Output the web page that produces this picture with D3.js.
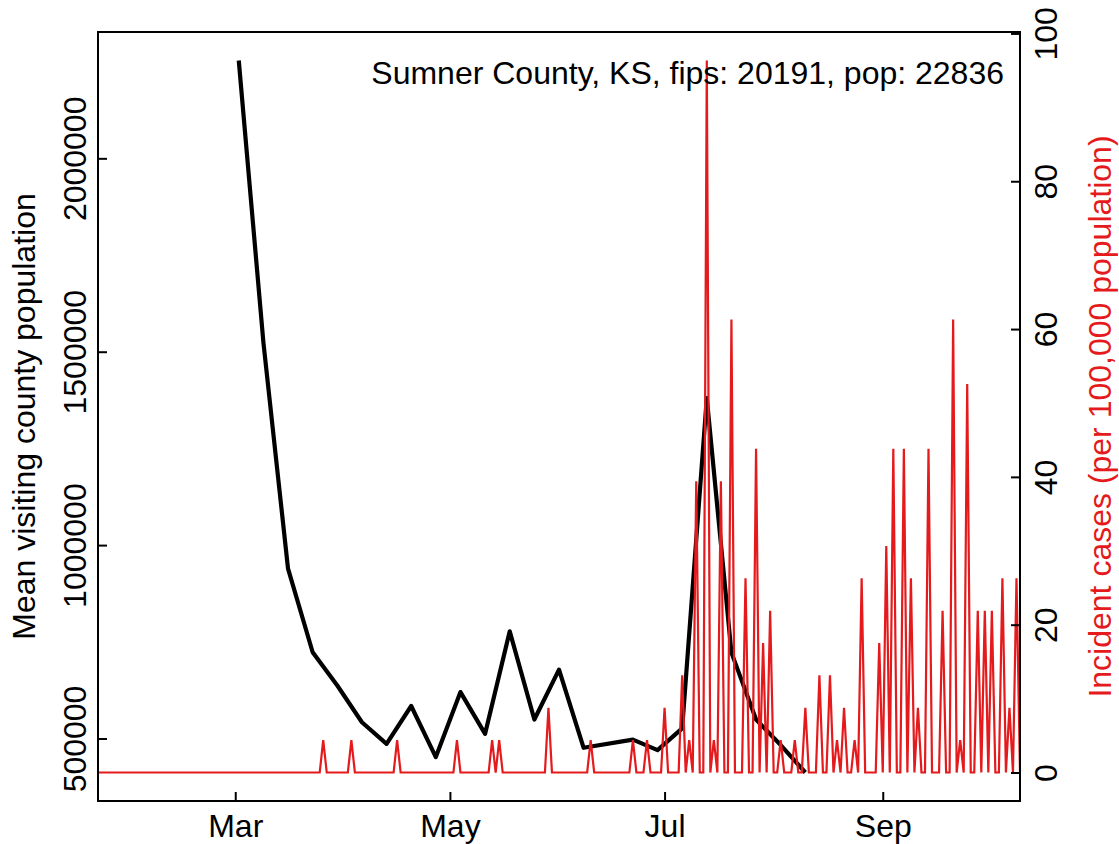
<!DOCTYPE html>
<html>
<head>
<meta charset="utf-8">
<script src="https://cdn.jsdelivr.net/npm/d3@7"></script>
<style>
  body { margin: 0; background: #fff; }
  svg { display: block; font-family: "Liberation Sans", Arial, sans-serif; }
</style>
</head>
<body>
<svg id="chart"></svg>
<script>
// weekly mean visiting county population (black line)
const visitDates = ["2020-03-02", "2020-03-09", "2020-03-16", "2020-03-23", "2020-03-30",
    "2020-04-06", "2020-04-13", "2020-04-20", "2020-04-27", "2020-05-04", "2020-05-11",
    "2020-05-18", "2020-05-25", "2020-06-01", "2020-06-08", "2020-06-22", "2020-06-29",
    "2020-07-06", "2020-07-13", "2020-07-20", "2020-07-27", "2020-08-03", "2020-08-10"];
const visitValues = [2253000, 1524000, 939000, 723000, 637000,
    542000, 486000, 584000, 452000, 620000, 512000,
    777000, 549000, 678000, 476000, 497000, 470000,
    526000, 1380000, 722000, 549000, 483000, 412000];

// daily incident cases per 100,000 (red line); days not listed are 0
const caseStart = "2020-01-22";
const caseEnd = "2020-10-10";
const caseDates = ["2020-03-26", "2020-04-03", "2020-04-16", "2020-05-03", "2020-05-13",
    "2020-05-15", "2020-05-29", "2020-06-10", "2020-06-22", "2020-06-26", "2020-07-01",
    "2020-07-06", "2020-07-08", "2020-07-10", "2020-07-13", "2020-07-15", "2020-07-17",
    "2020-07-20", "2020-07-24", "2020-07-27", "2020-07-29", "2020-07-31", "2020-08-03",
    "2020-08-07", "2020-08-10", "2020-08-14", "2020-08-17", "2020-08-19", "2020-08-21",
    "2020-08-24", "2020-08-26", "2020-08-31", "2020-09-02", "2020-09-04", "2020-09-07",
    "2020-09-09", "2020-09-11", "2020-09-14", "2020-09-18", "2020-09-21", "2020-09-23",
    "2020-09-25", "2020-09-28", "2020-09-30", "2020-10-02", "2020-10-05", "2020-10-07",
    "2020-10-09"];
const caseValues = [4.38, 4.38, 4.38, 4.38, 4.38,
    4.38, 8.76, 4.38, 4.38, 4.38, 8.76,
    13.14, 4.38, 39.41, 96.34, 4.38, 39.41,
    61.31, 26.27, 43.79, 17.52, 21.90, 4.38,
    4.38, 8.76, 13.14, 13.14, 4.38, 8.76,
    4.38, 26.27, 17.52, 30.65, 43.79, 43.79,
    26.27, 8.76, 43.79, 21.90, 61.31, 4.38,
    52.55, 21.90, 21.90, 21.90, 26.27, 8.76,
    26.27];

const monthTicks = ["2020-03-01", "2020-05-01", "2020-07-01", "2020-09-01"];
const leftTicks = [500000, 1000000, 1500000, 2000000];
const rightTicks = [0, 20, 40, 60, 80, 100];
const title = "Sumner County, KS, fips: 20191, pop: 22836";

class DualChart {
    margin = {
        top: 32, right: 99, bottom: 43, left: 98
    }

    constructor(svg, width = 1119, height = 844) {
        this.svg = svg;
        this.width = width;
        this.height = height;
    }

    initialize() {
        const parse = d3.utcParse("%Y-%m-%d");
        this.visits = visitDates.map((d, i) => ({ date: parse(d), value: visitValues[i] }));

        const caseMap = new Map(caseDates.map((d, i) => [d, caseValues[i]]));
        const fmt = d3.utcFormat("%Y-%m-%d");
        this.cases = d3.utcDay.range(parse(caseStart), d3.utcDay.offset(parse(caseEnd), 1))
            .map(d => ({ date: d, value: caseMap.get(fmt(d)) || 0 }));
        this.ticksX = monthTicks.map(parse);

        this.innerW = this.width - this.margin.left - this.margin.right;
        this.innerH = this.height - this.margin.top - this.margin.bottom;

        this.svg = d3.select(this.svg)
            .attr("width", this.width)
            .attr("height", this.height);
        this.container = this.svg.append("g")
            .attr("transform", `translate(${this.margin.left}, ${this.margin.top})`);

        this.xScale = d3.scaleUtc()
            .domain([parse(caseStart), parse(caseEnd)])
            .range([0, this.innerW]);

        // R style 4% padding on the y ranges
        const pad = ([a, b]) => [a - 0.04 * (b - a), b + 0.04 * (b - a)];
        this.yLeft = d3.scaleLinear()
            .domain(pad(d3.extent(this.visits, d => d.value)))
            .range([this.innerH, 0]);
        this.yRight = d3.scaleLinear()
            .domain(pad([0, d3.max(this.cases, d => d.value)]))
            .range([this.innerH, 0]);
    }

    update() {
        const c = this.container;
        const tickLen = 9;
        const font = "32px";

        c.append("path")
            .datum(this.visits)
            .attr("d", d3.line().x(d => this.xScale(d.date)).y(d => this.yLeft(d.value)))
            .style("fill", "none")
            .style("stroke", "#000")
            .style("stroke-width", 4.2)
            .style("stroke-linejoin", "round");

        c.append("path")
            .datum(this.cases)
            .attr("d", d3.line().x(d => this.xScale(d.date)).y(d => this.yRight(d.value)))
            .style("fill", "none")
            .style("stroke", "#e41a1c")
            .style("stroke-width", 2.2);

        c.append("rect")
            .attr("width", this.innerW)
            .attr("height", this.innerH)
            .style("fill", "none")
            .style("stroke", "#000")
            .style("stroke-width", 2);

        // x axis, ticks point inward
        const xa = c.append("g").attr("transform", `translate(0, ${this.innerH})`)
            .call(d3.axisBottom(this.xScale).tickValues(this.ticksX)
                .tickFormat(d3.utcFormat("%b")).tickSizeInner(-tickLen).tickSizeOuter(0).tickPadding(0));
        xa.select(".domain").remove();
        xa.selectAll("line").attr("stroke-width", 2);
        xa.selectAll("text")
            .attr("y", 36).attr("dy", null)
            .attr("font-size", font).attr("fill", "#000");

        // left axis
        const la = c.append("g")
            .call(d3.axisLeft(this.yLeft).tickValues(leftTicks)
                .tickFormat(d3.format("d")).tickSizeInner(-tickLen).tickSizeOuter(0));
        la.select(".domain").remove();
        la.selectAll("line").attr("stroke-width", 2);
        la.selectAll("text")
            .attr("x", null).attr("dy", null)
            .attr("text-anchor", "middle")
            .attr("transform", "translate(-12, 0) rotate(-90)")
            .attr("font-size", font).attr("fill", "#000");

        // right axis
        const ra = c.append("g").attr("transform", `translate(${this.innerW}, 0)`)
            .call(d3.axisRight(this.yRight).tickValues(rightTicks)
                .tickSizeInner(-tickLen).tickSizeOuter(0));
        ra.select(".domain").remove();
        ra.selectAll("line").attr("stroke-width", 2);
        ra.selectAll("text")
            .attr("x", null).attr("dy", null)
            .attr("text-anchor", "middle")
            .attr("transform", "translate(37, 0) rotate(-90)")
            .attr("font-size", font).attr("fill", "#000");

        // axis titles
        this.svg.append("text")
            .attr("transform", `translate(35, ${this.margin.top + this.innerH / 2}) rotate(-90)`)
            .attr("text-anchor", "middle")
            .attr("font-size", font)
            .text("Mean visiting county population");

        this.svg.append("text")
            .attr("transform", `translate(1111, ${this.margin.top + this.innerH / 2}) rotate(-90)`)
            .attr("text-anchor", "middle")
            .attr("font-size", font)
            .attr("fill", "#e41a1c")
            .text("Incident cases (per 100,000 population)");

        this.svg.append("text")
            .attr("x", 1004)
            .attr("y", 84)
            .attr("text-anchor", "end")
            .attr("font-size", font)
            .text(title);
    }
}

const chart = new DualChart(document.getElementById("chart"));
chart.initialize();
chart.update();
</script>
</body>
</html>
